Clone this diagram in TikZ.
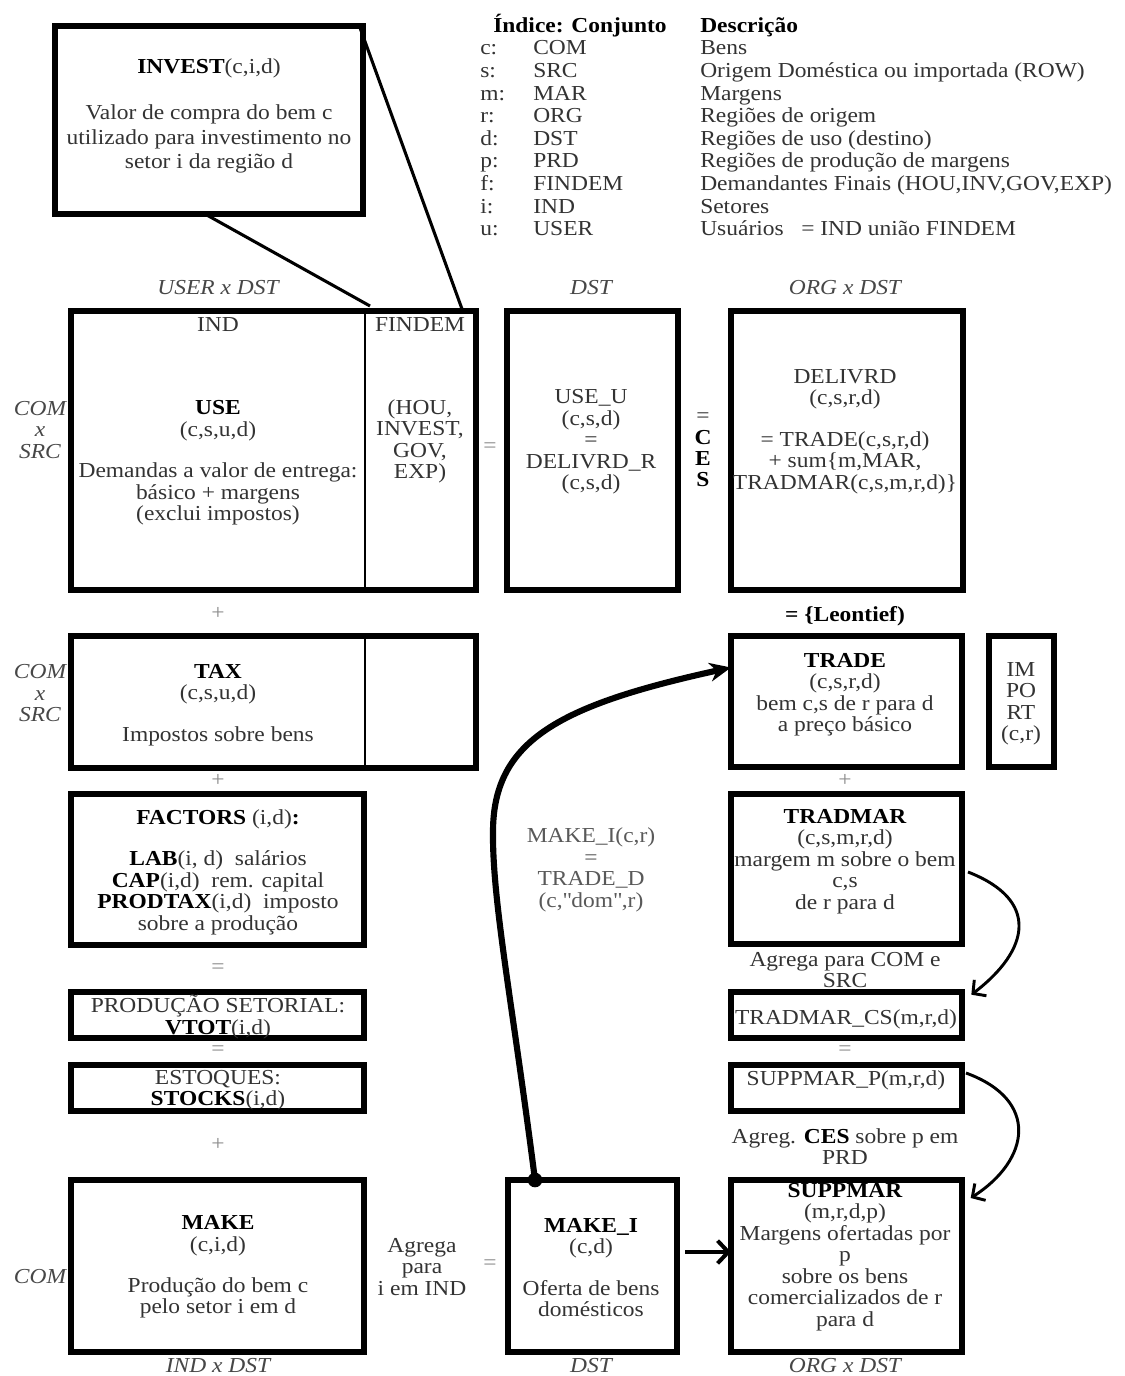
\documentclass[tikz,border=0pt]{standalone}
\usepackage{fontspec}
\setmainfont[FakeStretch=1.1]{Liberation Serif}
\usetikzlibrary{arrows.meta,calc}
\newcommand{\bt}[1]{{\bfseries\color{black}#1}}
\newcommand{\sq}{\XeTeXglyph\XeTeXcharglyph"22\relax}
\tikzset{
  box/.style={draw=black, line width=4.1pt, inner sep=0pt, outer sep=0pt},
  sz/.style 2 args={minimum width=#1*0.75pt, minimum height=#2*0.75pt},
  txt/.style={align=center, inner sep=0pt, text=black!80},
  lbl/.style={font=\fontsize{16}{16.1}\selectfont\itshape, inner sep=0pt, text=black!72},
  op/.style={inner sep=0pt, text=black!45},
  leg/.style={inner sep=0pt, text=black!80, anchor=base west, font=\fontsize{16}{17}\selectfont},
  hdr/.style={inner sep=0pt, text=black, anchor=base west, font=\fontsize{16}{17}\selectfont\bfseries},
  divider/.style={line width=1.9pt},
  lnk/.style={line width=2.3pt},
  bigarr/.style={line width=4.6pt, -{Stealth[length=16pt,width=14pt,inset=5pt]}},
  thinarr/.style={line width=2.2pt, -{Straight Barb[length=7pt,width=15pt]}},
  midarr/.style={line width=3pt, -{Straight Barb[length=8pt,width=17pt]}}
}
\begin{document}
\begin{tikzpicture}[x=0.75pt,y=-0.75pt,font=\fontsize{16}{16.1}\selectfont]
\fill[white] (0,0) rectangle (1124,1376);
\useasboundingbox (0,0) rectangle (1124,1376);

% ---------- legend ----------
\node[hdr] (lh1) at (493,33) {Índice: Conjunto};
\node[hdr] (lh2) at (700,33) {Descrição};
\foreach \k/\a/\b/\c in {0/c:/COM/Bens,
  1/s:/SRC/{Origem Doméstica ou importada (ROW)},
  2/m:/MAR/Margens,
  3/r:/ORG/{Regiões de origem},
  4/d:/DST/{Regiões de uso (destino)},
  5/p:/PRD/{Regiões de produção de margens},
  6/f:/FINDEM/{Demandantes Finais (HOU,INV,GOV,EXP)},
  7/i:/IND/Setores,
  8/u:/USER/{Usuários~~ = IND união FINDEM}}{
  \node[leg] (la\k) at (480,55+22.6*\k) {\a};
  \node[leg] (lb\k) at (533,55+22.6*\k) {\b};
  \node[leg] (lc\k) at (700,55+22.6*\k) {\c};
}

% ---------- boxes ----------
\node[box, sz={308}{188}] (invest) at (209,120) {};
\node[box, sz={405}{279}] (use) at (273.5,450.5) {};
\node[box, sz={171}{279}] (useu) at (592.5,450.5) {};
\node[box, sz={232}{279}] (deliv) at (847,450.5) {};
\node[box, sz={405}{132}] (tax) at (273.5,702) {};
\node[box, sz={231}{131}] (trade) at (846.5,701.5) {};
\node[box, sz={65}{131}] (import) at (1021.5,701.5) {};
\node[box, sz={293}{151}] (factors) at (217.5,869.5) {};
\node[box, sz={231}{150}] (tradmar) at (846.5,869) {};
\node[box, sz={293}{46}] (prod) at (217.5,1015) {};
\node[box, sz={231}{46}] (tmcs) at (846.5,1015) {};
\node[box, sz={293}{46}] (stocks) at (217.5,1088) {};
\node[box, sz={231}{46}] (smp) at (846.5,1088) {};
\node[box, sz={293}{172}] (make) at (217.5,1266) {};
\node[box, sz={169}{172}] (makei) at (592.5,1266) {};
\node[box, sz={231}{172}] (suppmar) at (846.5,1266) {};

% dividers
\coordinate (usedt) at (365,311);
\coordinate (usedb) at (365,590);
\coordinate (taxdt) at (365,636);
\coordinate (taxdb) at (365,768);
\draw[divider] (usedt) -- (usedb);
\draw[divider] (taxdt) -- (taxdb);

% ---------- texts ----------
\node[txt, font=\fontsize{16}{18.4}\selectfont] (tinvest) at (209,116)
  {\bt{INVEST}(c,i,d)\\[16pt]Valor de compra do bem c\\utilizado para investimento no\\setor i da região d};

\node[lbl, anchor=base] (l1) at (218,295) {USER x DST};
\node[lbl, anchor=base] (l2) at (591,295) {DST};
\node[lbl, anchor=base] (l3) at (845,295) {ORG x DST};

\node[txt, anchor=base] (tind) at (218,331) {IND};
\node[txt, anchor=base] (tfind) at (420,331) {FINDEM};
\node[txt] (tuse) at (218,463)
  {\bt{USE}\\(c,s,u,d)\\[15pt]Demandas a valor de entrega:\\básico + margens\\(exclui impostos)};
\node[txt] (tfd) at (420,441.5) {(HOU,\\INVEST,\\GOV,\\EXP)};
\node[lbl, align=center] (lcs1) at (40,430) {COM\\x\\SRC};
\node[op] (eq1) at (490,448) {=};
\node[txt] (tuseu) at (591,442)
  {USE\_U\\(c,s,d)\\=\\DELIVRD\_R\\(c,s,d)};
\node[txt] (tces) at (703,450) {=\\\bt{C}\\\bt{E}\\\bt{S}};
\node[txt] (tdeliv) at (845,431.5)
  {DELIVRD\\(c,s,r,d)\\[15pt]= TRADE(c,s,r,d)\\+ sum\{m,MAR,\\TRADMAR(c,s,m,r,d)\}};

\node[op] (pl1) at (218,613) {+};
\node[txt, anchor=base] (leon) at (845,621) {\bt{= \{Leontief)}};

\node[lbl, align=center] (lcs2) at (40,693.5) {COM\\x\\SRC};
\node[txt] (ttax) at (218,705) {\bt{TAX}\\(c,s,u,d)\\[15pt]Impostos sobre bens};
\node[txt] (ttrade) at (845,694.5)
  {\bt{TRADE}\\(c,s,r,d)\\bem c,s de r para d\\a preço básico};
\node[txt] (timport) at (1021,704) {IM\\PO\\RT\\(c,r)};

\node[op] (pl2) at (218,780) {+};
\node[op] (pl3) at (845,780) {+};

\node[txt] (tfactors) at (218,872)
  {\bt{FACTORS} (i,d)\bt{:}\\[15pt]\bt{LAB}(i, d)~~salários\\\bt{CAP}(i,d)~~rem. capital\\\bt{PRODTAX}(i,d)~~imposto\\sobre a produção};
\node[txt] (ttradmar) at (845,861.5)
  {\bt{TRADMAR}\\(c,s,m,r,d)\\margem m sobre o bem\\c,s\\de r para d};
\node[txt, text=black!65] (tmk) at (591,870)
  {MAKE\_I(c,r)\\=\\TRADE\_D\\(c,\sq dom\sq,r)};

\node[op] (eq2) at (218,969) {=};
\node[txt] (tagr1) at (845,970) {Agrega para COM e\\SRC};

\node[txt] (tprod) at (218,1017) {PRODUÇÃO SETORIAL:\\\bt{VTOT}(i,d)};
\node[txt, anchor=base] (ttmcs) at (846,1024) {TRADMAR\_CS(m,r,d)};

\node[op] (eq3) at (218,1051) {=};
\node[op] (eq4) at (845,1051) {=};

\node[txt] (tstocks) at (218,1090) {ESTOQUES:\\\bt{STOCKS}(i,d)};
\node[txt, anchor=base] (tsmp) at (846,1085) {SUPPMAR\_P(m,r,d)};

\node[op] (pl4) at (218,1144) {+};
\node[txt] (tagr2) at (845,1146.5) {Agreg. \bt{CES} sobre p em\\PRD};

\node[txt] (tmake) at (218,1267)
  {\bt{MAKE}\\(c,i,d)\\[15pt]Produção do bem c\\pelo setor i em d};
\node[lbl, anchor=base] (lcom) at (40,1283) {COM};
\node[txt] (tagr3) at (422,1267) {Agrega\\para\\i em IND};
\node[op] (eq5) at (490,1265) {=};
\node[txt] (tmakei) at (591,1267.5)
  {\bt{MAKE\_I}\\(c,d)\\[15pt]Oferta de bens\\domésticos};
\node[txt] (tsupp) at (845,1257)
  {\bt{SUPPMAR}\\(m,r,d,p)\\Margens ofertadas por\\p\\sobre os bens\\comercializados de r\\para d};

\node[lbl, anchor=base] (l4) at (218,1372) {IND x DST};
\node[lbl, anchor=base] (l5) at (591,1372) {DST};
\node[lbl, anchor=base] (l6) at (845,1372) {ORG x DST};

% ---------- connectors ----------
\coordinate (divtop) at (370,306);
\coordinate (fdtop) at (462,309);
\draw[lnk] ([xshift=-3pt]invest.south) -- (divtop);
\draw[lnk] ([xshift=-2pt,yshift=-2pt]invest.north east) -- (fdtop);

\coordinate (mkdot) at (535,1180);
\fill (mkdot) circle[radius=5.5pt];
\draw[bigarr] (mkdot) .. controls (512,1000) and (492,900) .. (493,830)
  .. controls (494,740) and (560,705) .. ([yshift=25.5pt]trade.west);

\draw[thinarr] ([xshift=4.5pt,yshift=-2.25pt]tradmar.east)
  .. controls (1040,900) and (1030,950) .. ([xshift=7pt,yshift=-2pt]tmcs.north east);
\draw[thinarr] ([xshift=3pt,yshift=-6pt]smp.north east)
  .. controls (1040,1100) and (1030,1160) .. ([xshift=6.5pt,yshift=-13.5pt]suppmar.north east);

\draw[midarr] ([xshift=6pt,yshift=10.5pt]makei.east) -- ([yshift=10.5pt]suppmar.west);
\end{tikzpicture}
\end{document}
